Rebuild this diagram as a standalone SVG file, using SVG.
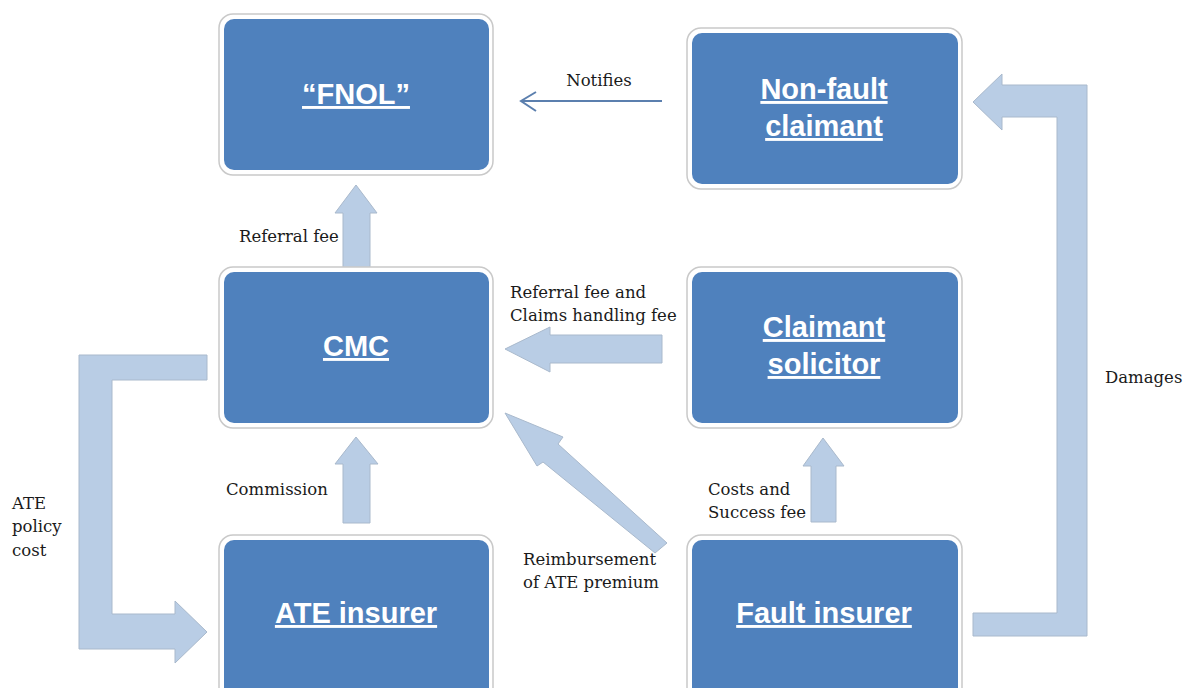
<svg xmlns="http://www.w3.org/2000/svg" width="1184" height="688" viewBox="0 0 1184 688">
<style>
.frame{fill:#ffffff;stroke:#c9c9c9;stroke-width:1.5}
.box{fill:#4f81bd}
.title{font-family:"Liberation Sans",Arial,sans-serif;font-weight:bold;font-size:29px;fill:#ffffff;text-anchor:middle;text-decoration:underline}
.lbl{font-family:"DejaVu Serif","Liberation Serif",serif;font-size:16.5px;fill:#1a1a1a}
.fat{fill:#b9cde5;stroke:#a9b9cc;stroke-width:1}
</style>
<rect x="0" y="0" width="1184" height="688" fill="#ffffff"/>
<g id="connectors">
  <g id="notifies">
    <line x1="521" y1="101" x2="662" y2="101" stroke="#5b7fae" stroke-width="2"/>
    <polyline points="536,92 521,101 536,111" fill="none" stroke="#5b7fae" stroke-width="2"/>
    <text class="lbl" x="599" y="86" text-anchor="middle">Notifies</text>
  </g>
  <g id="referral-fee">
    <polygon class="fat" points="356,185 377,213 370,213 370,269 343,269 343,213 335,213"/>
    <text class="lbl" x="239" y="242">Referral fee</text>
  </g>
  <g id="commission">
    <polygon class="fat" points="356,437 378,464 370,464 370,523 343,523 343,464 335,464"/>
    <text class="lbl" x="226" y="495">Commission</text>
  </g>
  <g id="costs">
    <polygon class="fat" points="823,438 844,466 836,466 836,522 811,522 811,466 803,466"/>
    <text class="lbl" x="708" y="495">Costs and</text>
    <text class="lbl" x="708" y="518">Success fee</text>
  </g>
  <g id="referral-claims">
    <polygon class="fat" points="505,349 550,327 550,335 662,335 662,363 550,363 550,372"/>
    <text class="lbl" x="510" y="298">Referral fee and</text>
    <text class="lbl" x="510" y="321">Claims handling fee</text>
  </g>
  <g id="reimbursement">
    <polygon class="fat" points="505,413 563,437 558,444 667,543 655,553 543,462 537,466"/>
    <text class="lbl" x="523" y="565">Reimbursement</text>
    <text class="lbl" x="523" y="588">of ATE premium</text>
  </g>
  <g id="ate-policy">
    <polygon class="fat" points="79,355 207,355 207,380 112,380 112,614 175,614 175,601 207,632 175,663 175,649 79,649"/>
    <text class="lbl" x="12" y="509">ATE</text>
    <text class="lbl" x="12" y="532">policy</text>
    <text class="lbl" x="12" y="556">cost</text>
  </g>
  <g id="damages">
    <polygon class="fat" points="973,102 1002,74 1002,85 1087,85 1087,636 973,636 973,613 1057,613 1057,117 1002,117 1002,130"/>
    <text class="lbl" x="1105" y="383">Damages</text>
  </g>
</g>
<g id="node-fnol">
  <rect class="frame" x="219" y="14" width="274" height="161" rx="14"/>
  <rect class="box" x="224" y="19" width="265" height="151" rx="10"/>
  <text class="title" x="356" y="104">“FNOL”</text>
</g>
<g id="node-nonfault">
  <rect class="frame" x="687" y="28" width="275" height="161" rx="14"/>
  <rect class="box" x="692" y="33" width="266" height="151" rx="10"/>
  <text class="title" x="824" y="99">Non-fault</text>
  <text class="title" x="824" y="136">claimant</text>
</g>
<g id="node-cmc">
  <rect class="frame" x="219" y="267" width="274" height="161" rx="14"/>
  <rect class="box" x="224" y="272" width="265" height="151" rx="10"/>
  <text class="title" x="356" y="356">CMC</text>
</g>
<g id="node-solicitor">
  <rect class="frame" x="687" y="267" width="275" height="161" rx="14"/>
  <rect class="box" x="692" y="272" width="266" height="151" rx="10"/>
  <text class="title" x="824" y="337">Claimant</text>
  <text class="title" x="824" y="374">solicitor</text>
</g>
<g id="node-ate">
  <rect class="frame" x="219" y="535" width="274" height="170" rx="14"/>
  <rect class="box" x="224" y="540" width="265" height="160" rx="10"/>
  <text class="title" x="356" y="623">ATE insurer</text>
</g>
<g id="node-fault">
  <rect class="frame" x="687" y="535" width="275" height="170" rx="14"/>
  <rect class="box" x="692" y="540" width="266" height="160" rx="10"/>
  <text class="title" x="824" y="623">Fault insurer</text>
</g>
</svg>
